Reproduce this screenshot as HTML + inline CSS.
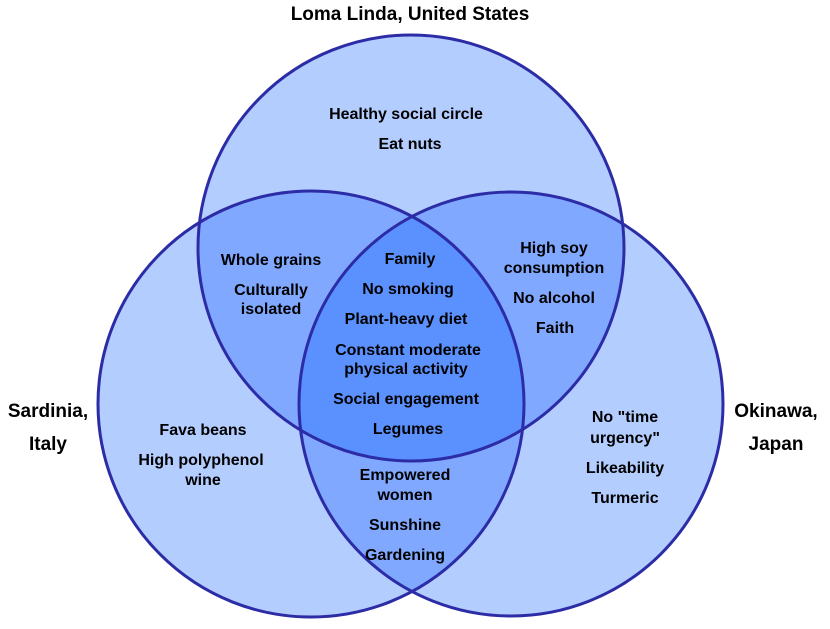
<!DOCTYPE html>
<html><head><meta charset="utf-8"><style>html,body{margin:0;padding:0;background:#fff}</style></head>
<body>
<svg width="830" height="624" viewBox="0 0 830 624" xmlns="http://www.w3.org/2000/svg">
<defs>
<clipPath id="A"><circle cx="411" cy="248" r="213"/></clipPath>
<clipPath id="B"><circle cx="311" cy="404" r="213"/></clipPath>
<clipPath id="C"><circle cx="511" cy="404" r="212"/></clipPath>
</defs>
<g fill="#b3cdff">
<circle cx="411" cy="248" r="213"/>
<circle cx="311" cy="404" r="213"/>
<circle cx="511" cy="404" r="212"/>
</g>
<g fill="#80a8ff">
<g clip-path="url(#A)"><circle cx="311" cy="404" r="213"/><circle cx="511" cy="404" r="212"/></g>
<g clip-path="url(#B)"><circle cx="511" cy="404" r="212"/></g>
</g>
<g clip-path="url(#A)"><g clip-path="url(#B)"><circle cx="511" cy="404" r="212" fill="#5a91ff"/></g></g>
<g fill="none" stroke="#2c2ca6" stroke-width="3">
<circle cx="411" cy="248" r="213"/>
<circle cx="311" cy="404" r="213"/>
<circle cx="511" cy="404" r="212"/>
</g>
<g font-family="Liberation Sans, sans-serif" font-weight="bold" text-anchor="middle" fill="#000">
<g font-size="19">
<text x="410" y="20">Loma Linda, United States</text>
<text x="48" y="417">Sardinia,</text>
<text x="48" y="450">Italy</text>
<text x="776" y="417">Okinawa,</text>
<text x="776" y="450">Japan</text>
</g>
<g font-size="16">
<text x="406" y="119">Healthy social circle</text>
<text x="410" y="149">Eat nuts</text>
<text x="271" y="265">Whole grains</text>
<text x="271" y="295">Culturally</text>
<text x="271" y="314">isolated</text>
<text x="410" y="264">Family</text>
<text x="408" y="294">No smoking</text>
<text x="406" y="324">Plant-heavy diet</text>
<text x="408" y="355">Constant moderate</text>
<text x="406" y="374">physical activity</text>
<text x="406" y="404">Social engagement</text>
<text x="408" y="434">Legumes</text>
<text x="554" y="253">High soy</text>
<text x="554" y="273">consumption</text>
<text x="554" y="303">No alcohol</text>
<text x="555" y="333">Faith</text>
<text x="203" y="435">Fava beans</text>
<text x="201" y="465">High polyphenol</text>
<text x="203" y="485">wine</text>
<text x="405" y="480">Empowered</text>
<text x="405" y="500">women</text>
<text x="405" y="530">Sunshine</text>
<text x="405" y="560">Gardening</text>
<text x="625" y="422">No "time</text>
<text x="625" y="443">urgency"</text>
<text x="625" y="473">Likeability</text>
<text x="625" y="503">Turmeric</text>
</g>
</g>
</svg>
</body></html>
